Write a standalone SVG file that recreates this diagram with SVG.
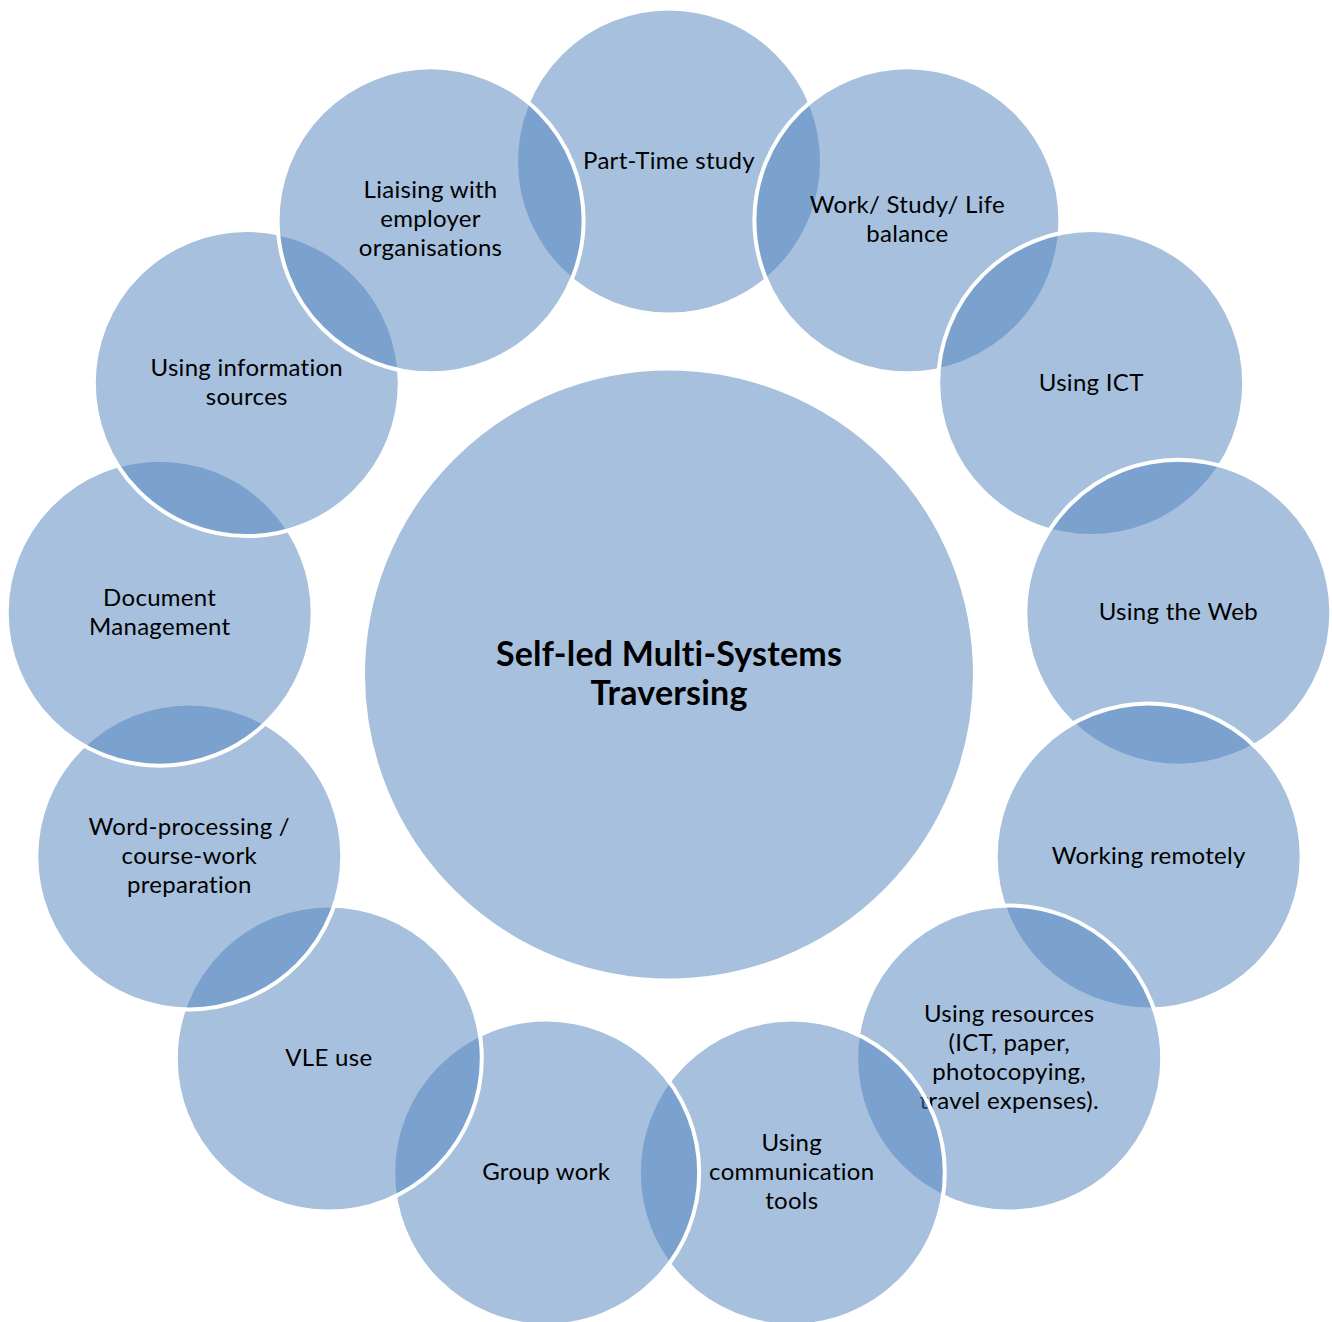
<svg xmlns="http://www.w3.org/2000/svg" width="1332" height="1322" viewBox="0 0 1332 1322">
<style>
  .c { fill: rgb(79,129,189); fill-opacity: 0.5; stroke: #ffffff; stroke-width: 4; }
  .t { font-family: Lato, "Open Sans", "Liberation Sans", sans-serif; font-size: 24px; letter-spacing: 0.3px; fill: #000000; text-anchor: middle; }
  .tb { font-family: Lato, "Open Sans", "Liberation Sans", sans-serif; font-size: 34px; letter-spacing: 0.2px; font-weight: bold; fill: #000000; text-anchor: middle; }
</style>
<rect x="0" y="0" width="1332" height="1322" fill="#ffffff"/>
<g id="center">
  <circle class="c" cx="669" cy="674.5" r="306"/>
  <text class="tb" x="669" y="666">Self-led Multi-Systems</text>
  <text class="tb" x="669" y="705">Traversing</text>
</g>
<g id="node-part-time">
  <circle class="c" cx="669" cy="161.5" r="153"/>
  <text class="t" x="669" y="169">Part-Time study</text>
</g>
<g id="node-balance">
  <circle class="c" cx="907.4" cy="220.3" r="153"/>
  <text class="t" x="907.4" y="213">Work/ Study/ Life</text>
  <text class="t" x="907.4" y="242">balance</text>
</g>
<g id="node-ict">
  <circle class="c" cx="1091.2" cy="383.1" r="153"/>
  <text class="t" x="1091.2" y="391">Using ICT</text>
</g>
<g id="node-web">
  <circle class="c" cx="1178.3" cy="612.7" r="153"/>
  <text class="t" x="1178.3" y="620">Using the Web</text>
</g>
<g id="node-remote">
  <circle class="c" cx="1148.7" cy="856.4" r="153"/>
  <text class="t" x="1148.7" y="864">Working remotely</text>
</g>
<g id="node-resources">
  <circle class="c" cx="1009.2" cy="1058.5" r="153"/>
  <text class="t" x="1009.2" y="1022">Using resources</text>
  <text class="t" x="1009.2" y="1051">(ICT, paper,</text>
  <text class="t" x="1009.2" y="1080">photocopying,</text>
  <text class="t" x="1009.2" y="1109">travel expenses).</text>
</g>
<g id="node-communication">
  <circle class="c" cx="791.8" cy="1172.6" r="153"/>
  <text class="t" x="791.8" y="1151">Using</text>
  <text class="t" x="791.8" y="1180">communication</text>
  <text class="t" x="791.8" y="1209">tools</text>
</g>
<g id="node-group-work">
  <circle class="c" cx="546.2" cy="1172.6" r="153"/>
  <text class="t" x="546.2" y="1180">Group work</text>
</g>
<g id="node-vle">
  <circle class="c" cx="328.8" cy="1058.5" r="153"/>
  <text class="t" x="328.8" y="1066">VLE use</text>
</g>
<g id="node-word-processing">
  <circle class="c" cx="189.3" cy="856.4" r="153"/>
  <text class="t" x="189.3" y="835">Word-processing /</text>
  <text class="t" x="189.3" y="864">course-work</text>
  <text class="t" x="189.3" y="893">preparation</text>
</g>
<g id="node-document">
  <circle class="c" cx="159.7" cy="612.7" r="153"/>
  <text class="t" x="159.7" y="606">Document</text>
  <text class="t" x="159.7" y="635">Management</text>
</g>
<g id="node-information">
  <circle class="c" cx="246.8" cy="383.1" r="153"/>
  <text class="t" x="246.8" y="376">Using information</text>
  <text class="t" x="246.8" y="405">sources</text>
</g>
<g id="node-liaising">
  <circle class="c" cx="430.6" cy="220.3" r="153"/>
  <text class="t" x="430.6" y="198">Liaising with</text>
  <text class="t" x="430.6" y="227">employer</text>
  <text class="t" x="430.6" y="256">organisations</text>
</g>
</svg>
